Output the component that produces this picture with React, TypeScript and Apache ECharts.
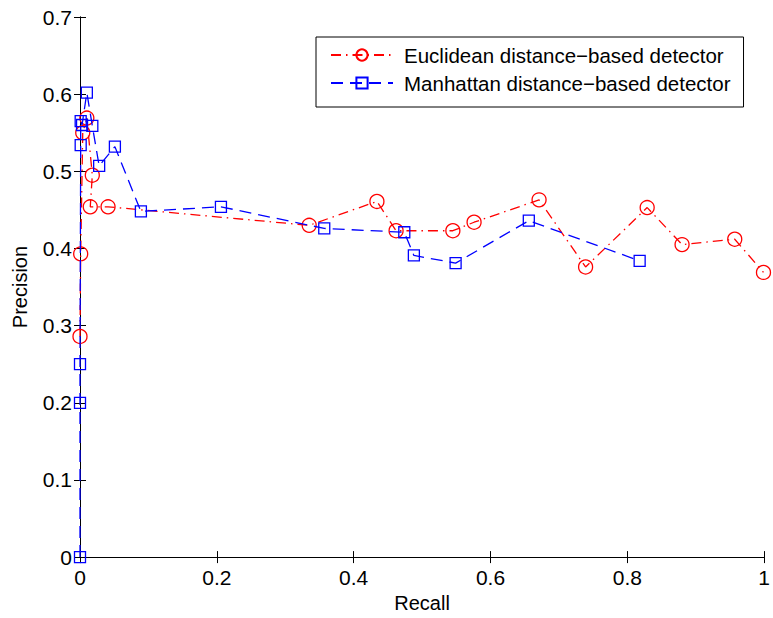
import React, { useEffect, useRef } from "react";
import * as echarts from "echarts";

const euclideanRecall = [0, 0.001, 0.004, 0.010, 0.018, 0.015, 0.041, 0.335, 0.434, 0.462, 0.545, 0.576, 0.671, 0.739, 0.829, 0.880, 0.957, 0.999];
const euclideanPrecision = [0.286, 0.393, 0.550, 0.569, 0.495, 0.454, 0.454, 0.430, 0.461, 0.423, 0.423, 0.434, 0.463, 0.376, 0.453, 0.405, 0.412, 0.369];

const manhattanRecall = [0, 0, 0, 0.001, 0.001, 0.003, 0.010, 0.018, 0.028, 0.051, 0.089, 0.206, 0.357, 0.474, 0.488, 0.549, 0.656, 0.818];
const manhattanPrecision = [0, 0.200, 0.250, 0.534, 0.565, 0.560, 0.602, 0.559, 0.507, 0.532, 0.448, 0.454, 0.426, 0.421, 0.391, 0.381, 0.436, 0.384];

const seriesNames = ["Euclidean distance\u2212based detector", "Manhattan distance\u2212based detector"];
const xLabel = "Recall";
const yLabel = "Precision";

const FONT = "'Liberation Sans', Arial, Helvetica, sans-serif";

export default function App() {
  const ref = useRef<HTMLDivElement>(null);
  useEffect(() => {
    if (!ref.current) return;
    const chart = echarts.init(ref.current, undefined, { renderer: "svg" });
    const eData = euclideanRecall.map((x, i) => [x, euclideanPrecision[i]]);
    const mData = manhattanRecall.map((x, i) => [x, manhattanPrecision[i]]);
    const axisCommon = {
      axisLine: { show: true, lineStyle: { color: "#000", width: 1 } },
      axisTick: { show: true, inside: true, length: 6, lineStyle: { color: "#000", width: 1 } },
      splitLine: { show: false },
    };
    chart.setOption({
      animation: false,
      backgroundColor: "#fff",
      textStyle: { fontFamily: FONT },
      grid: { left: 80, top: 17, right: 5, bottom: 57, containLabel: false },
      legend: {
        orient: "vertical",
        left: 316,
        top: 37,
        backgroundColor: "#fff",
        borderColor: "#000",
        borderWidth: 1,
        borderRadius: 0,
        padding: [6, 13, 12, 14],
        itemWidth: 62,
        itemHeight: 14,
        itemGap: 4,
        textStyle: { fontSize: 20.5, color: "#000", fontFamily: FONT, lineHeight: 24, padding: [0, 0, 0, 6] },
        data: seriesNames,
      },
      xAxis: [
        {
          type: "value",
          min: 0,
          max: 1,
          interval: 0.2,
          name: xLabel,
          nameLocation: "middle",
          nameGap: 33,
          nameTextStyle: { fontSize: 20, color: "#000", fontFamily: FONT },
          axisLabel: { fontSize: 21, color: "#000", margin: 10, fontFamily: FONT },
          ...axisCommon,
        },
        {
          type: "value",
          position: "top",
          min: 0,
          max: 1,
          interval: 0.2,
          axisLabel: { show: false },
          ...axisCommon,
        },
      ],
      yAxis: [
        {
          type: "value",
          min: 0,
          max: 0.7,
          interval: 0.1,
          name: yLabel,
          nameLocation: "middle",
          nameGap: 50,
          nameTextStyle: { fontSize: 20, color: "#000", fontFamily: FONT },
          axisLabel: { fontSize: 21, color: "#000", margin: 8, fontFamily: FONT },
          ...axisCommon,
        },
        {
          type: "value",
          position: "right",
          min: 0,
          max: 0.7,
          interval: 0.1,
          axisLabel: { show: false },
          ...axisCommon,
        },
      ],
      series: [
        {
          name: seriesNames[0],
          type: "line",
          data: eData,
          clip: false,
          symbol: "circle",
          symbolSize: 14,
          itemStyle: { color: "rgba(255,255,255,0)", borderColor: "#ff0000", borderWidth: 1.3 },
          lineStyle: { color: "#ff0000", width: 1.3, type: [10, 5, 1.5, 5] },
          z: 2,
        },
        {
          name: seriesNames[1],
          type: "line",
          data: mData,
          clip: false,
          symbol: "rect",
          symbolSize: 11,
          itemStyle: { color: "rgba(255,255,255,0)", borderColor: "#0000ff", borderWidth: 1.3 },
          lineStyle: { color: "#0000ff", width: 1.3, type: [12, 7] },
          z: 3,
        },
      ],
    });
    return () => chart.dispose();
  }, []);
  return <div ref={ref} style={{ position: "absolute", left: 0, top: 0, width: 773, height: 618 }} />;
}
